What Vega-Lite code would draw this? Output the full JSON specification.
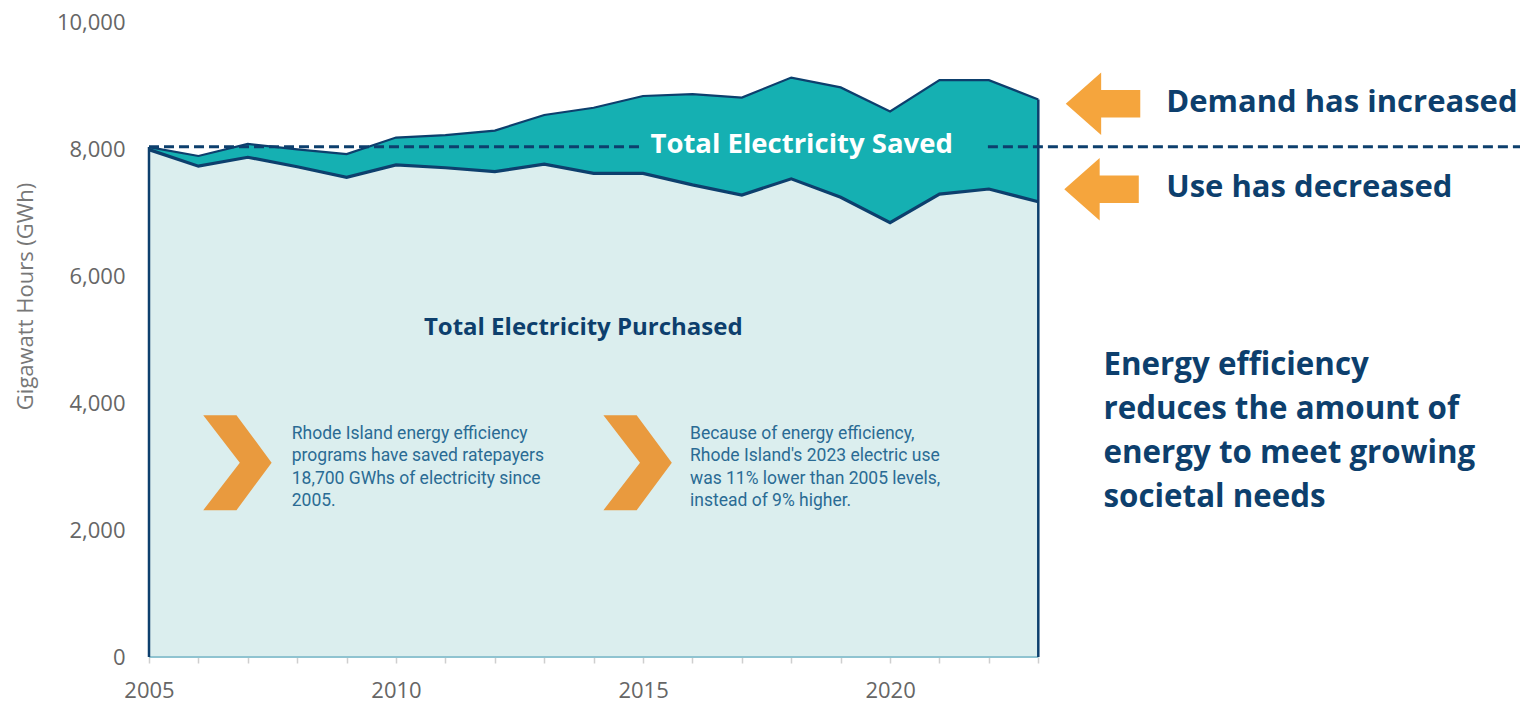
{
  "$schema": "https://vega.github.io/schema/vega-lite/v6.json",
  "width": 1371,
  "height": 635,
  "autosize": {"type": "none"},
  "padding": {"left": 149, "top": 22, "right": 0, "bottom": 45},
  "background": "white",
  "config": {"view": {"stroke": null}},
  "datasets": {
    "series": [
      {"year": 2005, "purchased": 7990, "demand": 8030, "base": 0},
      {"year": 2006, "purchased": 7730, "demand": 7890, "base": 0},
      {"year": 2007, "purchased": 7870, "demand": 8080, "base": 0},
      {"year": 2008, "purchased": 7720, "demand": 7995, "base": 0},
      {"year": 2009, "purchased": 7555, "demand": 7920, "base": 0},
      {"year": 2010, "purchased": 7750, "demand": 8180, "base": 0},
      {"year": 2011, "purchased": 7705, "demand": 8220, "base": 0},
      {"year": 2012, "purchased": 7645, "demand": 8290, "base": 0},
      {"year": 2013, "purchased": 7760, "demand": 8535, "base": 0},
      {"year": 2014, "purchased": 7617, "demand": 8650, "base": 0},
      {"year": 2015, "purchased": 7617, "demand": 8835, "base": 0},
      {"year": 2016, "purchased": 7435, "demand": 8865, "base": 0},
      {"year": 2017, "purchased": 7275, "demand": 8810, "base": 0},
      {"year": 2018, "purchased": 7530, "demand": 9125, "base": 0},
      {"year": 2019, "purchased": 7240, "demand": 8970, "base": 0},
      {"year": 2020, "purchased": 6840, "demand": 8590, "base": 0},
      {"year": 2021, "purchased": 7290, "demand": 9085, "base": 0},
      {"year": 2022, "purchased": 7370, "demand": 9085, "base": 0},
      {"year": 2023, "purchased": 7170, "demand": 8780, "base": 0}
    ]
  },
  "layer": [
    {
      "data": {"name": "series"},
      "mark": {"type": "area", "color": "#dbeeee", "opacity": 1},
      "encoding": {
        "x": {"field": "year", "type": "quantitative", "scale": {"domain": [2005, 2032.75], "nice": false, "zero": false},
          "axis": {"values": [2005,2006,2007,2008,2009,2010,2011,2012,2013,2014,2015,2016,2017,2018,2019,2020,2021,2022,2023],
            "labelExpr": "datum.value % 5 == 0 ? format(datum.value, 'd') : ''",
            "title": null, "grid": false, "domain": false, "ticks": true, "tickColor": "#cfcfcf", "tickSize": 6, "tickWidth": 1.5,
            "labelFont": "Open Sans", "labelFontSize": 22, "labelColor": "#666666", "labelPadding": 17, "labelFlush": false, "labelOverlap": false}},
        "y": {"field": "purchased", "type": "quantitative", "title": "Gigawatt Hours (GWh)", "scale": {"domain": [0, 10000], "nice": false},
          "axis": {"values": [0, 2000, 4000, 6000, 8000, 10000], "format": ",d", "title": "Gigawatt Hours (GWh)",
            "grid": false, "domain": false, "ticks": false, "labelFont": "Open Sans", "labelFontSize": 22, "labelColor": "#666666",
            "labelPadding": 24, "titleFont": "Open Sans", "titleFontSize": 22, "titleFontWeight": "normal", "titleColor": "#777777",
            "titleX": -112, "titleY": 274, "titleAngle": -90, "titleAlign": "center", "titleBaseline": "bottom"}}
      }
    },
    {
      "data": {"name": "series"},
      "mark": {"type": "area", "color": "#15b0b2", "opacity": 1},
      "encoding": {
        "x": {"field": "year", "type": "quantitative", "title": null},
        "y": {"field": "demand", "type": "quantitative", "title": "Gigawatt Hours (GWh)"},
        "y2": {"field": "purchased"}
      }
    },
    {
      "data": {"name": "series"},
      "mark": {"type": "line", "color": "#8fc3d0", "strokeWidth": 2},
      "encoding": {
        "x": {"field": "year", "type": "quantitative", "title": null},
        "y": {"field": "base", "type": "quantitative", "title": "Gigawatt Hours (GWh)"}
      }
    },
    {
      "data": {"name": "series"},
      "mark": {"type": "line", "color": "#0d3f6d", "strokeWidth": 2.2},
      "encoding": {
        "x": {"field": "year", "type": "quantitative", "title": null},
        "y": {"field": "demand", "type": "quantitative", "title": "Gigawatt Hours (GWh)"}
      }
    },
    {
      "data": {"name": "series"},
      "mark": {"type": "line", "color": "#0d3f6d", "strokeWidth": 3.2},
      "encoding": {
        "x": {"field": "year", "type": "quantitative", "title": null},
        "y": {"field": "purchased", "type": "quantitative", "title": "Gigawatt Hours (GWh)"}
      }
    },
    {
      "data": {"name": "series"},
      "transform": [{"filter": "datum.year == 2005 || datum.year == 2023"}],
      "mark": {"type": "rule", "color": "#0d3f6d", "strokeWidth": 2.5},
      "encoding": {
        "x": {"field": "year", "type": "quantitative", "title": null},
        "y": {"field": "demand", "type": "quantitative", "title": "Gigawatt Hours (GWh)"},
        "y2": {"field": "base"}
      }
    },
    {
      "data": {"values": [
        {"start": 2005, "end": 2014.94, "level": 8035},
        {"start": 2021.98, "end": 2032.75, "level": 8035}
      ]},
      "mark": {"type": "rule", "color": "#0d3f6d", "strokeWidth": 3, "strokeDash": [10, 5]},
      "encoding": {
        "x": {"field": "start", "type": "quantitative", "title": null},
        "x2": {"field": "end"},
        "y": {"field": "level", "type": "quantitative", "title": "Gigawatt Hours (GWh)"}
      }
    },
    {
      "data": {"values": [
        {"x": 2006.79, "y": 3060},
        {"x": 2014.89, "y": 3060}
      ]},
      "mark": {"type": "point", "filled": true, "opacity": 1, "color": "#e99a3e", "strokeWidth": 0, "size": 9025,
        "shape": "M -0.72 -1 L -0.02 -1 L 0.72 0 L -0.02 1 L -0.72 1 L 0.05 0 Z"},
      "encoding": {
        "x": {"field": "x", "type": "quantitative", "title": null},
        "y": {"field": "y", "type": "quantitative", "title": "Gigawatt Hours (GWh)"}
      }
    },
    {
      "data": {"values": [
        {"x": 2024.31, "y": 8712},
        {"x": 2024.28, "y": 7367}
      ]},
      "mark": {"type": "point", "filled": true, "opacity": 1, "color": "#f5a53d", "strokeWidth": 0, "size": 5550,
        "shape": "M -1 0 L -0.05 -0.84 L -0.05 -0.37 L 1 -0.37 L 1 0.37 L -0.05 0.37 L -0.05 0.84 Z"},
      "encoding": {
        "x": {"field": "x", "type": "quantitative", "title": null},
        "y": {"field": "y", "type": "quantitative", "title": "Gigawatt Hours (GWh)"}
      }
    },
    {
      "data": {"values": [{"x": 2018.21, "y": 7932, "label": "Total Electricity Saved"}]},
      "mark": {"type": "text", "font": "Open Sans", "fontWeight": "bold", "fontSize": 27.5, "color": "#ffffff", "align": "center", "baseline": "alphabetic"},
      "encoding": {
        "x": {"field": "x", "type": "quantitative", "title": null},
        "y": {"field": "y", "type": "quantitative", "title": "Gigawatt Hours (GWh)"},
        "text": {"field": "label"}
      }
    },
    {
      "data": {"values": [{"x": 2013.79, "y": 5071, "label": "Total Electricity Purchased"}]},
      "mark": {"type": "text", "font": "Open Sans", "fontWeight": "bold", "fontSize": 24, "color": "#0d3f6d", "align": "center", "baseline": "alphabetic"},
      "encoding": {
        "x": {"field": "x", "type": "quantitative", "title": null},
        "y": {"field": "y", "type": "quantitative", "title": "Gigawatt Hours (GWh)"},
        "text": {"field": "label"}
      }
    },
    {
      "data": {"values": [
        {"x": 2007.89, "y": 3433, "label": "Rhode Island energy efficiency\nprograms have saved ratepayers\n18,700 GWhs of electricity since\n2005."},
        {"x": 2015.95, "y": 3433, "label": "Because of energy efficiency,\nRhode Island's 2023 electric use\nwas 11% lower than 2005 levels,\ninstead of 9% higher."}
      ]},
      "mark": {"type": "text", "font": "Roboto", "fontSize": 17.5, "color": "#2a6b94", "align": "left", "baseline": "alphabetic", "lineBreak": "\n", "lineHeight": 22.3},
      "encoding": {
        "x": {"field": "x", "type": "quantitative", "title": null},
        "y": {"field": "y", "type": "quantitative", "title": "Gigawatt Hours (GWh)"},
        "text": {"field": "label"}
      }
    },
    {
      "data": {"values": [
        {"x": 2025.59, "y": 8587, "label": "Demand has increased"},
        {"x": 2025.59, "y": 7249, "label": "Use has decreased"}
      ]},
      "mark": {"type": "text", "font": "Open Sans", "fontWeight": "bold", "fontSize": 31, "color": "#0d3f6d", "align": "left", "baseline": "alphabetic"},
      "encoding": {
        "x": {"field": "x", "type": "quantitative", "title": null},
        "y": {"field": "y", "type": "quantitative", "title": "Gigawatt Hours (GWh)"},
        "text": {"field": "label"}
      }
    },
    {
      "data": {"values": [
        {"x": 2024.32, "y": 4441, "label": "Energy efficiency\nreduces the amount of\nenergy to meet growing\nsocietal needs"}
      ]},
      "mark": {"type": "text", "font": "Open Sans", "fontWeight": "bold", "fontSize": 31.3, "color": "#0d3f6d", "align": "left", "baseline": "alphabetic", "lineBreak": "\n", "lineHeight": 44},
      "encoding": {
        "x": {"field": "x", "type": "quantitative", "title": null},
        "y": {"field": "y", "type": "quantitative", "title": "Gigawatt Hours (GWh)"},
        "text": {"field": "label"}
      }
    }
  ]
}
